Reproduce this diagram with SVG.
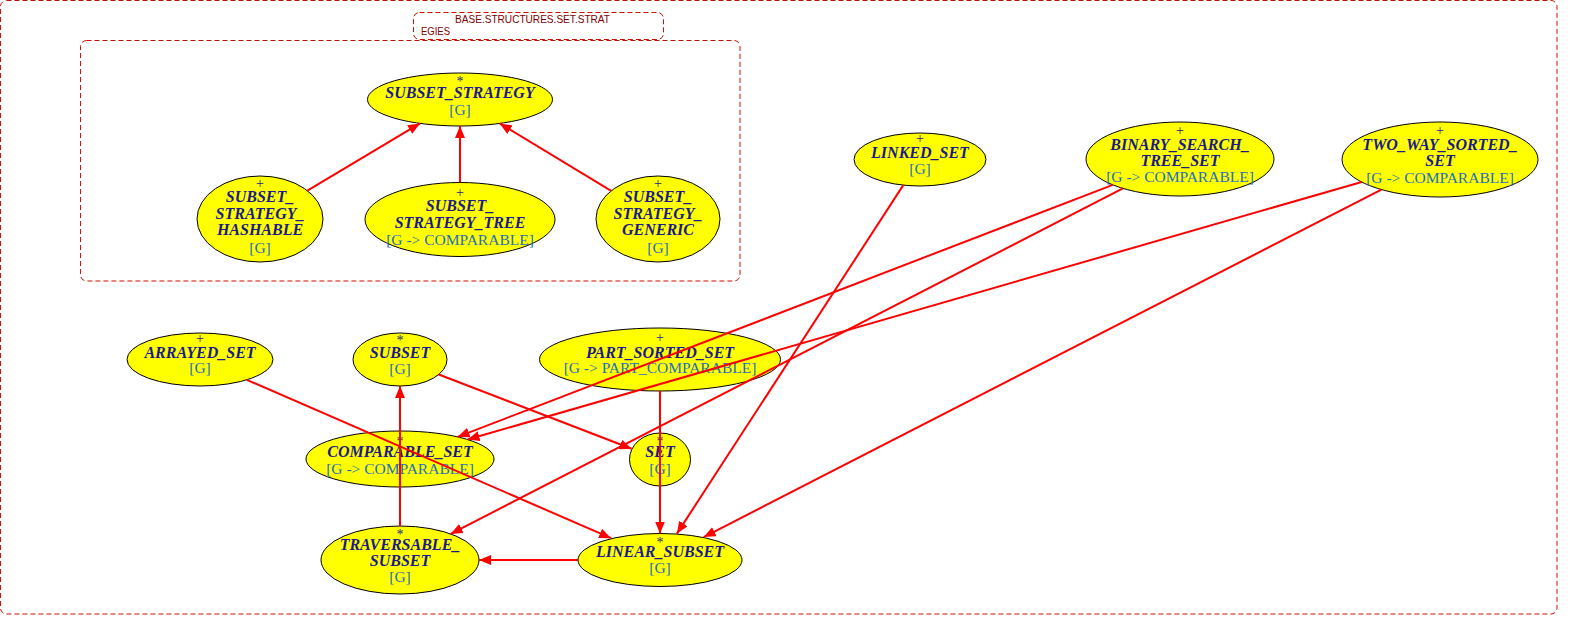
<svg xmlns="http://www.w3.org/2000/svg" width="1578" height="635" viewBox="0 0 1578 635">
<defs>
<style>
.cl{fill:none;stroke:#cc1100;stroke-width:1;stroke-dasharray:5,3}
.lb{font-family:"Liberation Sans",Arial,sans-serif;font-size:11px;fill:#800000}
.nd ellipse{fill:#ffff00;stroke:#000;stroke-width:1}
.m{font-family:"Liberation Serif","Times New Roman",serif;font-size:14px;fill:#1a1a8c;text-anchor:middle}
.n{font-family:"Liberation Serif","Times New Roman",serif;font-size:16px;font-weight:bold;font-style:italic;fill:#1a1a8c;text-anchor:middle}
.g{font-family:"Liberation Serif","Times New Roman",serif;font-size:15.5px;fill:#1f6fc0;text-anchor:middle}
.e{fill:none;stroke:#ff0000;stroke-width:2;marker-end:url(#arr)}
</style>
<marker id="arr" viewBox="0 0 12 10" refX="12" refY="5" markerWidth="12" markerHeight="10" markerUnits="userSpaceOnUse" orient="auto"><path d="M0,0 L12,5 L0,10 z" fill="#ff0000"/></marker>
</defs>
<rect width="1578" height="635" fill="#ffffff"/>
<g id="clusters">
<rect class="cl" x="0.5" y="0.5" width="1556.5" height="613.5" rx="6"/>
<rect class="cl" x="80.5" y="40.5" width="659.5" height="240.5" rx="6"/>
<rect class="cl" x="413.5" y="12.5" width="250" height="27" rx="6"/>
<text class="lb" x="455" y="23" textLength="155" lengthAdjust="spacingAndGlyphs">BASE.STRUCTURES.SET.STRAT</text>
<text class="lb" x="421" y="35" textLength="29" lengthAdjust="spacingAndGlyphs">EGIES</text>
</g>
<g id="SUBSET_STRATEGY" class="nd"><ellipse cx="460" cy="99.5" rx="92.5" ry="26.5"/><text class="m" x="460" y="86">*</text><text class="n" x="460" y="97.5">SUBSET_STRATEGY</text><text class="g" x="460" y="115">[G]</text></g>
<g id="SUBSET_STRATEGY_HASHABLE" class="nd"><ellipse cx="260" cy="219" rx="63" ry="43"/><text class="m" x="260" y="188">+</text><text class="n" x="260" y="202">SUBSET_</text><text class="n" x="260" y="218.5">STRATEGY_</text><text class="n" x="260" y="235">HASHABLE</text><text class="g" x="260" y="253">[G]</text></g>
<g id="SUBSET_STRATEGY_TREE" class="nd"><ellipse cx="460" cy="219.5" rx="95" ry="37"/><text class="m" x="460" y="196.5">+</text><text class="n" x="460" y="210.5">SUBSET_</text><text class="n" x="460" y="227.5">STRATEGY_TREE</text><text class="g" x="460" y="244.5">[G -&gt; COMPARABLE]</text></g>
<g id="SUBSET_STRATEGY_GENERIC" class="nd"><ellipse cx="658" cy="219" rx="62" ry="43"/><text class="m" x="658" y="188">+</text><text class="n" x="658" y="202">SUBSET_</text><text class="n" x="658" y="218.5">STRATEGY_</text><text class="n" x="658" y="235">GENERIC</text><text class="g" x="658" y="253">[G]</text></g>
<g id="LINKED_SET" class="nd"><ellipse cx="920" cy="159.5" rx="66" ry="26.5"/><text class="m" x="920" y="143">+</text><text class="n" x="920" y="158">LINKED_SET</text><text class="g" x="920" y="174">[G]</text></g>
<g id="BINARY_SEARCH_TREE_SET" class="nd"><ellipse cx="1180" cy="159" rx="94" ry="37"/><text class="m" x="1180" y="135">+</text><text class="n" x="1180" y="150">BINARY_SEARCH_</text><text class="n" x="1180" y="166">TREE_SET</text><text class="g" x="1180" y="182">[G -&gt; COMPARABLE]</text></g>
<g id="TWO_WAY_SORTED_SET" class="nd"><ellipse cx="1440" cy="159.5" rx="98" ry="37.5"/><text class="m" x="1440" y="135">+</text><text class="n" x="1440" y="150">TWO_WAY_SORTED_</text><text class="n" x="1440" y="165.7">SET</text><text class="g" x="1440" y="182.7">[G -&gt; COMPARABLE]</text></g>
<g id="ARRAYED_SET" class="nd"><ellipse cx="200" cy="359.5" rx="73" ry="26.5"/><text class="m" x="200" y="343.3">+</text><text class="n" x="200" y="357.7">ARRAYED_SET</text><text class="g" x="200" y="373.3">[G]</text></g>
<g id="SUBSET" class="nd"><ellipse cx="400" cy="359.5" rx="47" ry="26.5"/><text class="m" x="400" y="345.3">*</text><text class="n" x="400" y="358.3">SUBSET</text><text class="g" x="400" y="374.3">[G]</text></g>
<g id="PART_SORTED_SET" class="nd"><ellipse cx="660" cy="359.5" rx="120.5" ry="31.5"/><text class="m" x="660" y="342.3">+</text><text class="n" x="660" y="357.7">PART_SORTED_SET</text><text class="g" x="660" y="373.3">[G -&gt; PART_COMPARABLE]</text></g>
<g id="COMPARABLE_SET" class="nd"><ellipse cx="400" cy="459" rx="94" ry="28"/><text class="m" x="400" y="446">*</text><text class="n" x="400" y="457.3">COMPARABLE_SET</text><text class="g" x="400" y="474">[G -&gt; COMPARABLE]</text></g>
<g id="SET" class="nd"><ellipse cx="660" cy="459.5" rx="30.5" ry="26.5"/><text class="m" x="660" y="446">*</text><text class="n" x="660" y="457">SET</text><text class="g" x="660" y="474">[G]</text></g>
<g id="TRAVERSABLE_SUBSET" class="nd"><ellipse cx="400" cy="560" rx="79" ry="34"/><text class="m" x="400" y="538.7">*</text><text class="n" x="400" y="550">TRAVERSABLE_</text><text class="n" x="400" y="565.7">SUBSET</text><text class="g" x="400" y="581.7">[G]</text></g>
<g id="LINEAR_SUBSET" class="nd"><ellipse cx="660" cy="560" rx="82" ry="26.5"/><text class="m" x="660" y="547">*</text><text class="n" x="660" y="557.3">LINEAR_SUBSET</text><text class="g" x="660" y="573.3">[G]</text></g>
<g id="connectors">
<line class="e" x1="307.4" y1="190.7" x2="420" y2="123.4"/>
<line class="e" x1="460" y1="182.5" x2="460" y2="126"/>
<line class="e" x1="611.2" y1="190.8" x2="499.7" y2="123.4"/>
<line class="e" x1="903.3" y1="185.1" x2="676.9" y2="533.6"/>
<line class="e" x1="1112.8" y1="184.9" x2="457.6" y2="436.9"/>
<line class="e" x1="1122.9" y1="188.4" x2="450.7" y2="533.9"/>
<line class="e" x1="1361.7" y1="182" x2="467.6" y2="439.5"/>
<line class="e" x1="1381.4" y1="189.6" x2="703.7" y2="537.1"/>
<line class="e" x1="246.8" y1="379.8" x2="611.1" y2="538.2"/>
<line class="e" x1="438.8" y1="374.5" x2="631.6" y2="448.8"/>
<line class="e" x1="660" y1="391" x2="660" y2="533.5"/>
<line class="e" x1="400" y1="526" x2="400" y2="386"/>
<line class="e" x1="578" y1="560" x2="479" y2="560"/>
</g>
</svg>
